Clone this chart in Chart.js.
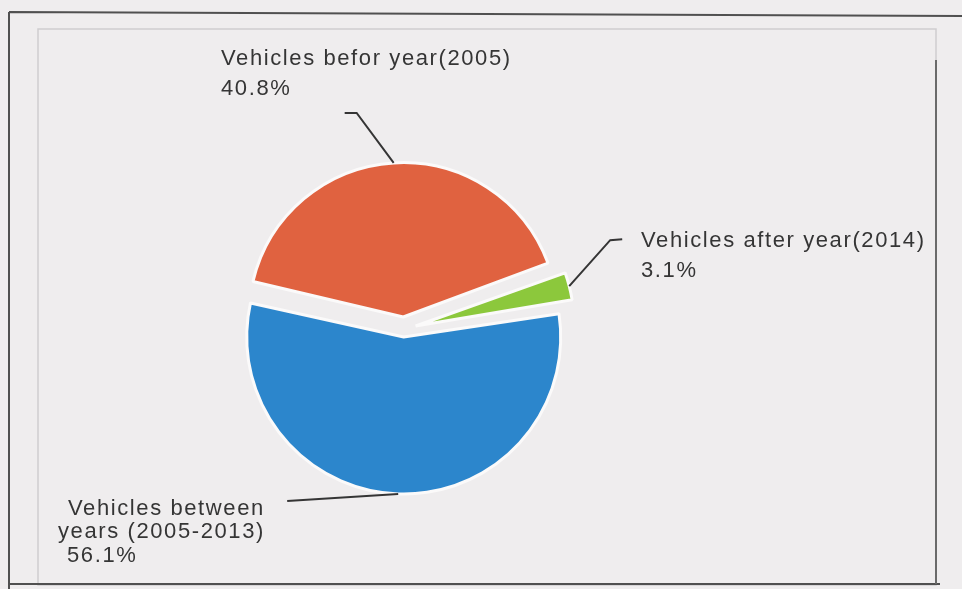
<!DOCTYPE html>
<html>
<head>
<meta charset="utf-8">
<script src="https://cdn.jsdelivr.net/npm/chart.js@4/dist/chart.umd.min.js"></script>
<style>
  html, body { margin: 0; padding: 0; background: #efedee; }
  #wrap { width: 962px; height: 589px; position: relative; }
</style>
</head>
<body>
<div id="wrap"><canvas id="myChart" width="962" height="589"></canvas></div>
<script>
'use strict';

// dane wykresu
var categories = ['Vehicles befor year(2005)', 'Vehicles after year(2014)', 'Vehicles between years (2005-2013)'];
var shares = [40.8, 3.1, 56.1];
var sliceColors = ['#e06240', '#8cc83c', '#2c86cc'];
// etykiety rysowane obok wycinkow (kazda linia osobno)
var labelLines = [
  ['Vehicles befor year(2005)', '40.8%'],
  ['Vehicles after year(2014)', '3.1%'],
  ['Vehicles between', 'years (2005-2013)', '56.1%']
];

// ramka wokol wykresu
var framePlugin = {
  id: 'frame',
  beforeDraw: function(chart) {
    var c = chart.ctx;
    c.save();
    c.strokeStyle = '#cfcdcf';
    c.lineWidth = 1.5;
    c.strokeRect(38, 29, 898, 556);
    c.strokeStyle = '#505050';
    c.lineWidth = 2;
    c.beginPath();
    c.moveTo(9, 12); c.lineTo(962, 16);
    c.moveTo(9, 12); c.lineTo(9, 589);
    c.moveTo(9, 584); c.lineTo(940, 584);
    c.stroke();
    c.strokeStyle = '#6a6a6a';
    c.beginPath();
    c.moveTo(936, 60); c.lineTo(936, 584);
    c.stroke();
    c.restore();
  }
};

// linie odniesienia i podpisy procentowe
var leaderOpts = [
  { path: [[-37, -50], [-49, -50]], text: [221, 65], lineGap: 30 },
  { path: [[41, -46], [53, -47]], text: [641, 247], lineGap: 30 },
  { path: [[-111, 7]], text: [[68, 515], [58, 538], [67, 562]] }
];

var labelPlugin = {
  id: 'sliceLabels',
  afterDatasetsDraw: function(chart) {
    var c = chart.ctx;
    var meta = chart.getDatasetMeta(0);
    c.save();
    c.strokeStyle = '#353535';
    c.lineWidth = 2;
    c.fillStyle = '#353535';
    c.font = '22px "Liberation Sans", Arial, sans-serif';
    c.letterSpacing = '1.6px';
    c.textBaseline = 'alphabetic';
    meta.data.forEach(function(arc, i) {
      var p = arc.getProps(['x', 'y', 'startAngle', 'endAngle', 'outerRadius'], true);
      var off = (arc.options.offset || 0) / 4;
      var span = p.endAngle - p.startAngle;
      var r = p.outerRadius + off * (1 - Math.sin(Math.min(Math.PI, span)));
      var mid = (p.startAngle + p.endAngle) / 2;
      var ax = p.x + Math.cos(mid) * (off + r);
      var ay = p.y + Math.sin(mid) * (off + r);
      var o = leaderOpts[i];
      c.beginPath();
      c.moveTo(ax, ay);
      o.path.forEach(function(d) { c.lineTo(ax + d[0], ay + d[1]); });
      c.stroke();
      labelLines[i].forEach(function(line, j) {
        if (Array.isArray(o.text[0])) {
          c.fillText(line, o.text[j][0], o.text[j][1]);
        } else {
          c.fillText(line, o.text[0], o.text[1] + j * o.lineGap);
        }
      });
    });
    c.restore();
  }
};

var ctx = document.getElementById('myChart').getContext('2d');
var chart = new Chart(ctx, {
  type: 'pie',
  data: {
    labels: categories,
    datasets: [{
      data: shares,
      backgroundColor: sliceColors,
      borderColor: '#fbfafa',
      borderWidth: 3,
      offset: [48, 48, 32]
    }]
  },
  options: {
    responsive: false,
    animation: false,
    rotation: -77,
    radius: 149,
    layout: { padding: { left: 0, right: 154, top: 69, bottom: 0 } },
    plugins: {
      legend: { display: false },
      tooltip: { enabled: false }
    }
  },
  plugins: [framePlugin, labelPlugin]
});
</script>
</body>
</html>
